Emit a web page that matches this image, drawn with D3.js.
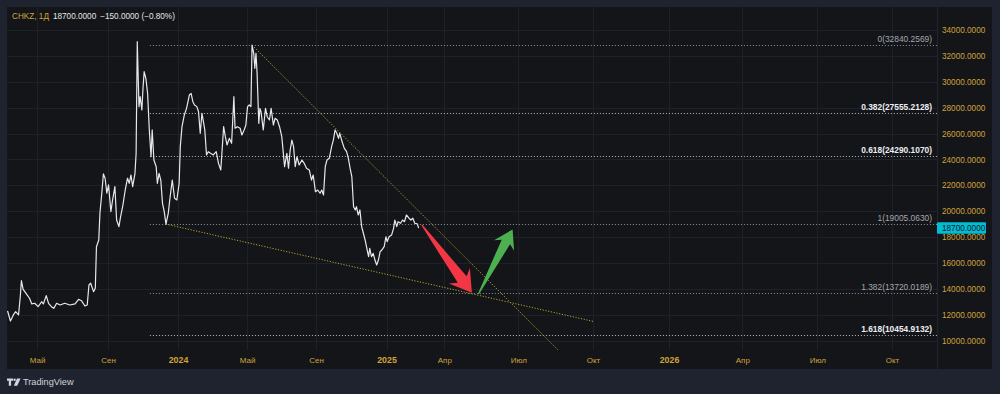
<!DOCTYPE html>
<html>
<head>
<meta charset="utf-8">
<script src="https://cdn.jsdelivr.net/npm/d3@7"></script>
<style>
  body { margin: 0; background: #1f2330; }
  text { font-family: "Liberation Sans", Arial, sans-serif; }
</style>
</head>
<body>
<svg id="vis"></svg>
<script>
const plotWidth = 1000;
const plotHeight = 394;
const svg = d3.select('#vis')
            .attr('width', plotWidth)
            .attr('height', plotHeight);

// daily close (thinned)
const priceDates = [
  '2023-03-11','2023-03-16','2023-03-21','2023-03-25','2023-03-30','2023-04-02','2023-04-04','2023-04-07',
  '2023-04-12','2023-04-18','2023-04-22','2023-04-27','2023-05-03','2023-05-09','2023-05-12','2023-05-17',
  '2023-05-21','2023-05-26','2023-05-30','2023-06-04','2023-06-10','2023-06-18','2023-06-27','2023-07-06',
  '2023-07-12','2023-07-17','2023-07-23','2023-07-27','2023-07-30','2023-08-02','2023-08-07','2023-08-10',
  '2023-08-12','2023-08-16','2023-08-18','2023-08-21','2023-08-24','2023-08-27','2023-08-30','2023-09-02',
  '2023-09-06','2023-09-09','2023-09-13','2023-09-16','2023-09-20','2023-09-23','2023-09-27','2023-10-01',
  '2023-10-05','2023-10-08','2023-10-11','2023-10-14','2023-10-18','2023-10-20','2023-10-21','2023-10-22',
  '2023-10-25','2023-10-27','2023-10-30','2023-11-01','2023-11-03','2023-11-06','2023-11-09','2023-11-12',
  '2023-11-15','2023-11-17','2023-11-20','2023-11-24','2023-11-26','2023-11-29','2023-12-02','2023-12-05',
  '2023-12-08','2023-12-11','2023-12-15','2023-12-18','2023-12-22','2023-12-26','2023-12-30','2024-01-03',
  '2024-01-05','2024-01-08','2024-01-12','2024-01-16','2024-01-21','2024-01-24','2024-01-27','2024-01-30',
  '2024-02-03','2024-02-06','2024-02-09','2024-02-12','2024-02-14','2024-02-17','2024-02-20','2024-02-23',
  '2024-02-27','2024-03-03','2024-03-08','2024-03-12','2024-03-16','2024-03-18','2024-03-21','2024-03-24',
  '2024-03-27','2024-03-31','2024-04-04','2024-04-08','2024-04-10','2024-04-14','2024-04-19','2024-04-22',
  '2024-04-26','2024-04-29','2024-05-02','2024-05-05','2024-05-08','2024-05-10','2024-05-13','2024-05-15',
  '2024-05-17','2024-05-19','2024-05-22','2024-05-24','2024-05-26','2024-05-30','2024-06-03','2024-06-06',
  '2024-06-10','2024-06-13','2024-06-17','2024-06-20','2024-06-24','2024-06-28','2024-07-02','2024-07-07',
  '2024-07-11','2024-07-14','2024-07-17','2024-07-20','2024-07-23','2024-07-26','2024-07-29','2024-08-02',
  '2024-08-07','2024-08-11','2024-08-15','2024-08-20','2024-08-24','2024-08-27','2024-08-31','2024-09-04',
  '2024-09-08','2024-09-11','2024-09-14','2024-09-17','2024-09-20','2024-09-24','2024-09-28','2024-10-01',
  '2024-10-04','2024-10-07','2024-10-10','2024-10-12','2024-10-17','2024-10-20','2024-10-24','2024-10-27',
  '2024-10-30','2024-11-02','2024-11-05','2024-11-08','2024-11-10','2024-11-13','2024-11-16','2024-11-19',
  '2024-11-22','2024-11-25','2024-11-28','2024-12-01','2024-12-03','2024-12-06','2024-12-09','2024-12-12',
  '2024-12-15','2024-12-18','2024-12-21','2024-12-24','2024-12-28','2024-12-31','2025-01-02','2025-01-05',
  '2025-01-09','2025-01-12','2025-01-14','2025-01-17','2025-01-19','2025-01-23','2025-01-26','2025-01-29',
  '2025-02-01','2025-02-05','2025-02-08','2025-02-11','2025-02-14','2025-02-18','2025-02-20'
];
const priceValues = [
  12300,11520,11990,12240,11990,13400,14640,13970,
  13660,13280,12840,12890,12630,13010,12840,13480,
  12890,12630,12500,12890,12760,12890,12760,12840,
  13200,13090,12680,12760,14300,14440,13790,14050,
  17260,17780,19840,21260,22880,22550,21390,22030,
  19970,20870,21900,19320,18810,19580,20480,21640,
  22550,22160,22800,21900,22930,24480,28850,33100,
  28080,28850,27820,29500,30780,30270,29110,26280,
  24210,26280,23960,23440,22160,22930,22410,20610,
  19970,19005,19840,21000,22410,21000,20870,22160,
  24990,26530,27430,27950,28980,29110,28460,28210,
  28080,27690,26020,27570,27050,26280,24350,24600,
  24480,24350,24600,23700,23190,24480,26530,25760,
  25120,25630,25250,28850,26410,26530,26410,25890,
  26280,26660,28080,28210,28080,32840,32200,31040,
  32200,30660,26790,27950,27690,26280,27950,27300,
  27050,27950,26660,27180,27050,26530,25760,23440,
  24480,23320,24730,25500,24990,23440,24210,23570,
  23960,23700,23320,23190,22410,22800,21510,21640,
  21390,21640,21260,23440,23960,24090,24990,25500,
  26280,26020,25630,26020,25250,24860,24600,24090,
  23320,22670,20350,20100,20350,19710,20100,18810,
  18300,17780,17140,16490,17140,16490,16750,16230,
  15850,16230,16880,17010,17260,18030,17650,18030,
  18170,18680,19320,18810,19190,19070,19320,19190,
  19710,19460,19320,19460,19070,19020,18700
];

const yTicks = [10000,12000,14000,16000,18000,20000,22000,24000,26000,28000,30000,32000,34000];
const tickDates = ['2023-05-01','2023-09-01','2024-01-01','2024-05-01','2024-09-01','2025-01-01',
                   '2025-04-01','2025-07-01','2025-10-01','2026-01-01','2026-04-01','2026-07-01','2026-10-01'];
const tickLabels = ['Май','Сен','2024','Май','Сен','2025','Апр','Июл','Окт','2026','Апр','Июл','Окт'];

const fibLevels = ['0','0.382','0.618','1','1.382','1.618'];
const fibValues = [32840.2569, 27555.2128, 24290.1070, 19005.0630, 13720.0189, 10454.9132];
const fibStrong = [false, true, true, false, false, true];
const fibStart = '2023-11-13';

const trendDates = [['2024-05-10','2025-08-19'], ['2023-12-11','2025-10-02']];
const trendPrices = [[32840.2569, 9283], [19005.0630, 11480]];

// [from, to] for the two arrow markers
const arrowDates = [['2025-02-25','2025-05-05'], ['2025-05-13','2025-06-24']];
const arrowPrices = [[18940, 13710], [13610, 18600]];
const arrowColors = ['#f23645', '#4caf50'];

const lastPrice = 18700;

const padLeft = 7, padRight = 937, padTop = 7, padBottom = 350;
const parse = d3.timeParse('%Y-%m-%d');
const amber = '#d1a33c';

const x = d3.scaleTime()
    .domain(tickDates.map(parse))
    .range([37, 108, 178, 247, 316, 386.5, 444.3, 518.3, 593, 669, 742.3, 817.3, 892]);
const y = d3.scaleLinear().domain([10000, 34000]).range([340.7, 30]);


function main() {
    drawFrame();
    drawGrid();
    drawFib();
    drawTrends();
    drawPrice();
    drawArrows();
    drawAxes();
    drawLegend();
}


function drawFrame() {
    svg.append('rect').attr('width', plotWidth).attr('height', plotHeight).attr('fill', '#1f2330');
    svg.append('rect')
        .attr('x', padLeft).attr('y', padTop)
        .attr('width', 992 - padLeft).attr('height', 369 - padTop)
        .attr('fill', '#131519');
    svg.append('defs').append('clipPath').attr('id', 'plotclip')
        .append('rect').attr('x', padLeft).attr('y', padTop)
        .attr('width', padRight - padLeft).attr('height', padBottom - padTop);
    // logo
    const logo = svg.append('g').attr('fill', '#d1d4dc');
    logo.append('path').attr('d', 'M7,378.5h6v2.3h-1.9v4.9h-2.3v-4.9H7z');
    logo.append('circle').attr('cx', 14.6).attr('cy', 379.7).attr('r', 1.2);
    logo.append('path').attr('d', 'M17,378.5h3.6l-3.4,7.2h-3.4z');
    svg.append('text').attr('x', 23).attr('y', 385.2)
        .attr('fill', '#d1d4dc').attr('font-size', 9.2).text('TradingView');
}


function drawGrid() {
    const grid = svg.append('g').attr('stroke', '#1e212a').attr('stroke-width', 1);
    grid.selectAll('.h').data(yTicks).enter().append('line')
        .attr('x1', padLeft).attr('x2', padRight)
        .attr('y1', d => Math.round(y(d)) + 0.5).attr('y2', d => Math.round(y(d)) + 0.5);
    grid.selectAll('.v').data(tickDates).enter().append('line')
        .attr('x1', d => Math.round(x(parse(d))) + 0.5).attr('x2', d => Math.round(x(parse(d))) + 0.5)
        .attr('y1', padTop).attr('y2', padBottom);
    svg.append('line').attr('x1', padRight + 0.5).attr('x2', padRight + 0.5).attr('y1', padTop).attr('y2', 369)
        .attr('stroke', '#22252e');
}


function drawFib() {
    const g = svg.append('g');
    const x0 = x(parse(fibStart));
    fibValues.forEach((v, i) => {
        const yy = Math.round(y(v)) + 0.5;
        g.append('line')
            .attr('x1', x0).attr('x2', padRight).attr('y1', yy).attr('y2', yy)
            .attr('stroke', fibStrong[i] ? '#b8bbc3' : '#8f929b')
            .attr('stroke-width', 1).attr('stroke-dasharray', '1,2');
        g.append('text')
            .attr('x', 932).attr('y', yy - 4)
            .attr('text-anchor', 'end')
            .attr('font-size', 8.4)
            .attr('font-weight', fibStrong[i] ? 'bold' : 'normal')
            .attr('fill', fibStrong[i] ? '#eceef2' : '#a3a6af')
            .text(fibLevels[i] + '(' + v.toFixed(4) + ')');
    });
}


function drawTrends() {
    svg.append('g').attr('clip-path', 'url(#plotclip)')
        .selectAll('line').data(trendDates).enter().append('line')
        .attr('x1', (d, i) => x(parse(d[0]))).attr('y1', (d, i) => y(trendPrices[i][0]))
        .attr('x2', (d, i) => x(parse(d[1]))).attr('y2', (d, i) => y(trendPrices[i][1]))
        .attr('stroke', '#b5a42c').attr('stroke-width', 1).attr('stroke-dasharray', '1.2,1.6');
}


function drawPrice() {
    const pts = priceDates.map((d, i) => [parse(d), priceValues[i]]);
    const line = d3.line().x(d => x(d[0])).y(d => y(d[1]));
    svg.append('path')
        .attr('clip-path', 'url(#plotclip)')
        .attr('d', line(pts))
        .attr('fill', 'none')
        .attr('stroke', '#e8e8ea')
        .attr('stroke-width', 1.2)
        .attr('stroke-linejoin', 'round');
}


function arrowPath(x0, y0, x1, y1) {
    const dx = x1 - x0, dy = y1 - y0, L = Math.hypot(dx, dy);
    const ux = dx / L, uy = dy / L, nx = -uy, ny = ux;
    const h = 0.25 * L, hw = 0.155 * L, sw = 0.065 * L, notch = 0.78 * h;
    const p = (a, b) => [x0 + ux * a + nx * b, y0 + uy * a + ny * b];
    const pts = [p(0, 0.6), p(L - notch, sw), p(L - h, hw), [x1, y1], p(L - h, -hw), p(L - notch, -sw), p(0, -0.6)];
    return 'M' + pts.map(q => q[0].toFixed(1) + ',' + q[1].toFixed(1)).join('L') + 'Z';
}


function drawArrows() {
    svg.append('g').selectAll('path').data(arrowDates).enter().append('path')
        .attr('d', (d, i) => arrowPath(x(parse(d[0])), y(arrowPrices[i][0]), x(parse(d[1])), y(arrowPrices[i][1])))
        .attr('fill', (d, i) => arrowColors[i]);
}


function drawAxes() {
    const xAxis = d3.axisBottom(x)
        .tickValues(tickDates.map(parse))
        .tickFormat((d, i) => tickLabels[i])
        .tickSize(0).tickPadding(7);
    const gx = svg.append('g').attr('transform', `translate(0,${padBottom})`).call(xAxis);
    gx.select('.domain').remove();
    gx.selectAll('text')
        .attr('fill', amber)
        .attr('font-size', (d, i) => /^\d+$/.test(tickLabels[i]) ? 8.8 : 8)
        .attr('font-weight', (d, i) => /^\d+$/.test(tickLabels[i]) ? 'bold' : 'normal');

    const yAxis = d3.axisRight(y)
        .tickValues(yTicks)
        .tickFormat(d3.format('.4f'))
        .tickSize(0).tickPadding(5);
    const gy = svg.append('g').attr('transform', `translate(${padRight},0)`).call(yAxis);
    gy.select('.domain').remove();
    gy.selectAll('text').attr('fill', amber).attr('font-size', 8.2);

    // last price badge
    const yy = y(lastPrice);
    svg.append('rect')
        .attr('x', padRight).attr('y', yy - 5.8).attr('width', 49).attr('height', 11.6)
        .attr('fill', '#00bcd4').attr('rx', 1);
    svg.append('text')
        .attr('x', padRight + 5).attr('y', yy).attr('dy', '0.35em')
        .attr('fill', '#131722').attr('font-size', 8.2)
        .text(d3.format('.4f')(lastPrice));
}


function drawLegend() {
    const t = svg.append('text').attr('x', 12).attr('y', 19.4).attr('font-size', 8.2);
    t.append('tspan').attr('fill', amber).text('CHKZ, 1Д');
    t.append('tspan').attr('fill', '#e3e5ea').attr('dx', 4).text('18700.0000');
    t.append('tspan').attr('fill', '#e3e5ea').attr('dx', 4).text('−150.0000 (−0.80%)');
}


main()
</script>
</body>
</html>
